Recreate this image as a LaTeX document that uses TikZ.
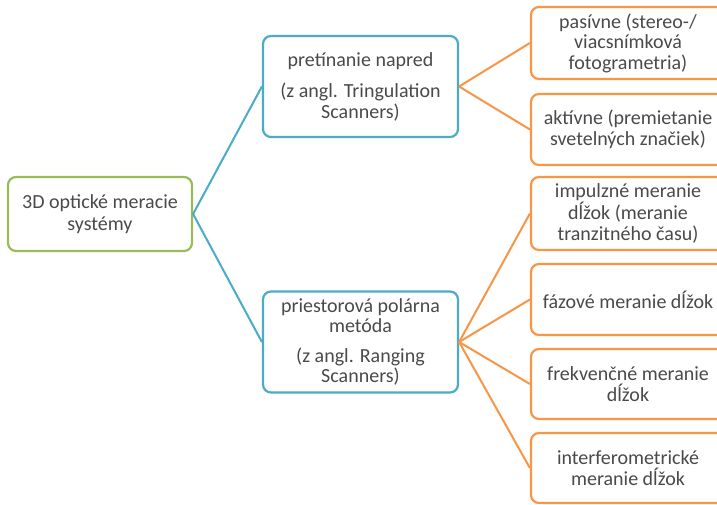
\documentclass[tikz,border=0pt]{standalone}
\usepackage{fontspec}
\setmainfont{Carlito}
\definecolor{rootgreen}{HTML}{9BBB59}
\definecolor{midblue}{HTML}{4BACC6}
\definecolor{leaforange}{HTML}{F79646}
\definecolor{txtgray}{HTML}{4A4A4A}
\begin{document}
\begin{tikzpicture}[x=1pt,y=-1pt,
  box/.style={draw, line width=2.2pt, rounded corners=8pt, fill=white,
    text=txtgray, align=center, inner sep=1pt,
    font=\fontsize{20}{20.5}\selectfont},
  rootbox/.style={box, draw=rootgreen, minimum width=184pt, minimum height=74pt,
    font=\fontsize{20}{22}\selectfont},
  midbox/.style={box, draw=midblue, minimum width=195pt, minimum height=101pt},
  leafbox/.style={box, draw=leaforange, minimum width=194pt, minimum height=71pt},
  bluelink/.style={draw=midblue, line width=2pt},
  orangelink/.style={draw=leaforange, line width=2pt}]
\useasboundingbox (0,0) rectangle (717,505);
\clip (0,0) rectangle (717,505);
\fill[white] (0,0) rectangle (717,505);

% root
\node[rootbox] (root) at (100,214) {3D optické meracie\\systémy};

% second level
\node[midbox] (tri) at (360.5,86.5) {pretínanie napred\\[11pt](z angl. Tringulation\\Scanners)};
\node[midbox] (rng) at (360.5,342) {priestorová polárna\\metóda\\[9pt](z angl. Ranging\\Scanners)};

% leaves
\node[leafbox, minimum height=72pt] (pas) at (628,43) {pasívne (stereo-/\\viacsnímková\\fotogrametria)};
\node[leafbox] (akt) at (628,129.5) {aktívne (premietanie\\svetelných značiek)};
\node[leafbox, minimum height=73pt] (imp) at (628,213.5) {impulzné meranie\\dĺžok (meranie\\tranzitného času)};
\node[leafbox] (faz) at (628,299.5) {fázové meranie dĺžok};
\node[leafbox, minimum height=70pt] (frk) at (628,384) {frekvenčné meranie\\dĺžok};
\node[leafbox, minimum height=70pt] (int) at (628,468) {interferometrické\\meranie dĺžok};

% connectors
\draw[bluelink] (root.east) -- (tri.west);
\draw[bluelink] (root.east) -- (rng.west);
\foreach \n in {pas,akt} \draw[orangelink] (tri.east) -- (\n.west);
\foreach \n in {imp,faz,frk,int} \draw[orangelink] (rng.east) -- (\n.west);
\end{tikzpicture}
\end{document}
